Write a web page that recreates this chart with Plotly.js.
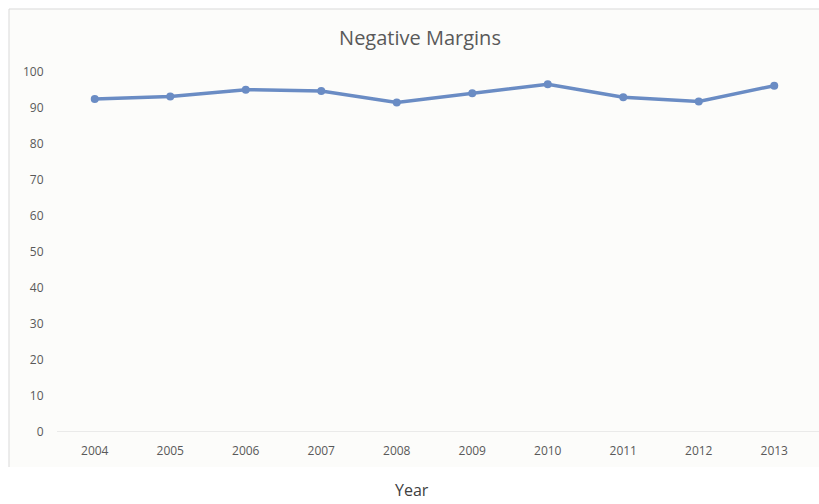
<!DOCTYPE html>
<html>
<head>
<meta charset="utf-8">
<script src="https://cdn.plot.ly/plotly-3.0.1.min.js"></script>
<style>
  html, body { margin: 0; padding: 0; background: #ffffff; }
  #chart { width: 819px; height: 504px; }
</style>
</head>
<body>
<div id="chart"></div>
<script>
// Years on the category axis
const years = ['2004', '2005', '2006', '2007', '2008', '2009', '2010', '2011', '2012', '2013'];
// Negative margin values per year
const negativeMargins = [92.5, 93.2, 95.1, 94.7, 91.5, 94.1, 96.6, 93.0, 91.8, 96.2];
// Value axis ticks
const yTicks = [0, 10, 20, 30, 40, 50, 60, 70, 80, 90, 100];

const lineColor = '#6a8cc4';
const textColor = '#595959';
const frameColor = '#d9d9d9';

// frame edges in paper coordinates
const frameLeft = (9 - 57) / 755;
const frameTop = (432 - 9) / 360;
const frameBottom = (432 - 467) / 360;

const trace = {
  type: 'scatter',
  mode: 'lines+markers',
  x: years,
  y: negativeMargins,
  line: { color: lineColor, width: 3.5 },
  marker: { color: lineColor, size: 8 },
  hoverinfo: 'x+y'
};

const layout = {
  width: 819,
  height: 504,
  margin: { l: 57, r: 7, t: 72, b: 72 },
  paper_bgcolor: '#ffffff',
  plot_bgcolor: 'rgba(0,0,0,0)',
  showlegend: false,
  font: { family: 'Open Sans, Liberation Sans, sans-serif', color: textColor, size: 12 },
  title: {
    text: 'Negative Margins',
    font: { size: 20, color: textColor },
    xref: 'container', x: 420 / 819, xanchor: 'center',
    yref: 'container', y: 1 - 38 / 504, yanchor: 'middle'
  },
  xaxis: {
    type: 'category',
    range: [-0.5, years.length - 0.5],
    showgrid: false,
    zeroline: false,
    showline: false,
    ticks: 'outside',
    ticklen: 8,
    tickcolor: 'rgba(0,0,0,0)',
    tickfont: { size: 12, color: textColor },
    fixedrange: true
  },
  yaxis: {
    range: [0, 100],
    tickvals: yTicks,
    ticktext: yTicks.map(String),
    showgrid: false,
    zeroline: false,
    showline: false,
    ticks: 'outside',
    ticklen: 10,
    tickcolor: 'rgba(0,0,0,0)',
    tickfont: { size: 12, color: textColor },
    fixedrange: true
  },
  shapes: [
    // chart area fill
    {
      type: 'rect', layer: 'below',
      xref: 'paper', yref: 'paper',
      x0: frameLeft, x1: 1.05,
      y0: frameBottom, y1: frameTop,
      fillcolor: '#fcfcfa',
      line: { width: 0 }
    },
    // top edge of chart area
    {
      type: 'line', layer: 'below',
      xref: 'paper', yref: 'paper',
      x0: frameLeft, x1: 1.05, y0: frameTop, y1: frameTop,
      line: { color: frameColor, width: 1 }
    },
    // left edge of chart area
    {
      type: 'line', layer: 'below',
      xref: 'paper', yref: 'paper',
      x0: frameLeft, x1: frameLeft, y0: frameBottom, y1: frameTop,
      line: { color: frameColor, width: 1 }
    },
    // category axis baseline
    {
      type: 'line', layer: 'below',
      xref: 'paper', yref: 'y',
      x0: 0, x1: 1.01, y0: 0, y1: 0,
      line: { color: frameColor, width: 1 }
    }
  ],
  annotations: [
    {
      text: 'Year',
      showarrow: false,
      xref: 'paper', x: (412 - 57) / 755, xanchor: 'center',
      yref: 'paper', y: (432 - 490) / 360, yanchor: 'middle',
      font: { size: 16, color: '#404040' }
    }
  ]
};

Plotly.newPlot('chart', [trace], layout, { displayModeBar: false, staticPlot: true });
</script>
</body>
</html>
